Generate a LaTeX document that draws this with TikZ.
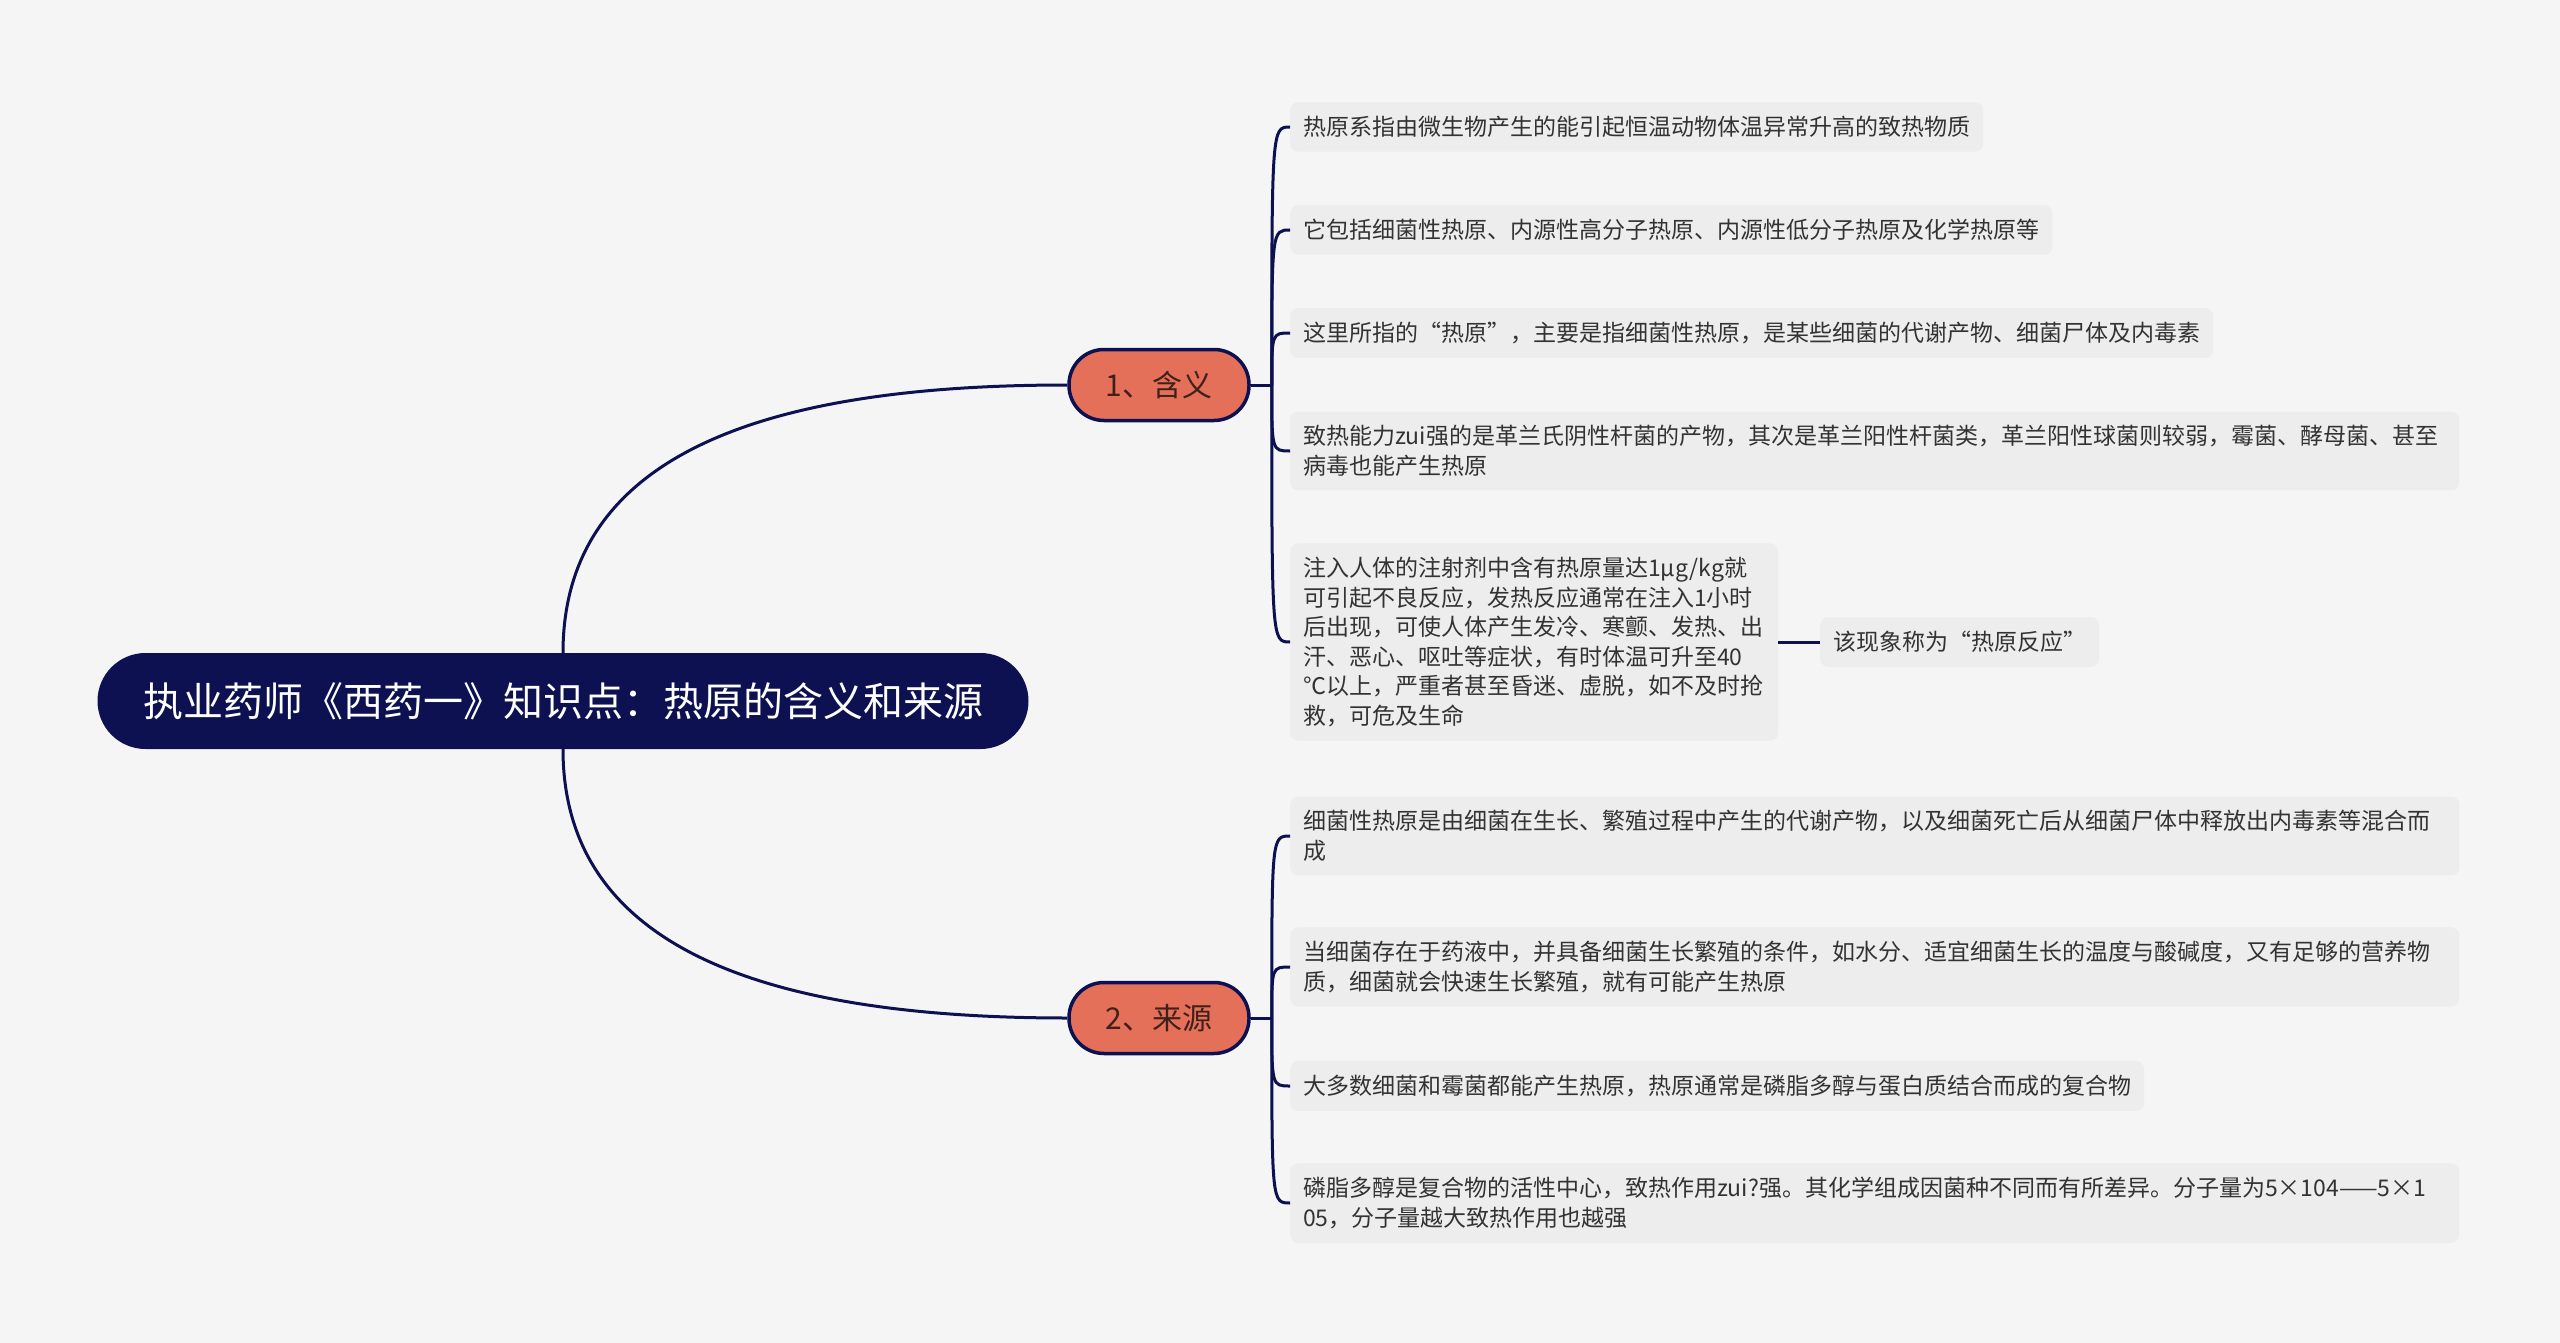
\documentclass[tikz,border=0pt]{standalone}
\usepackage{fontspec}
\setmainfont{Noto Sans CJK SC}
\usetikzlibrary{calc}
\definecolor{navy}{HTML}{0D1152}
\definecolor{salmon}{HTML}{E5705A}
\definecolor{paper}{HTML}{F5F5F5}
\definecolor{leafbg}{HTML}{EDEDED}
\definecolor{ink}{HTML}{333333}
\definecolor{branchink}{HTML}{40201A}

\begin{document}
\begin{tikzpicture}[x=1pt, y=-1pt]

\fill[paper] (0,0) rectangle (2560,1343);
\useasboundingbox (0,0) rectangle (2560,1343);

\tikzset{rootnode/.style={fill=navy, text=white, rounded corners=48pt, minimum width=931pt, minimum height=96pt, font=\fontsize{40}{48}\selectfont}}
\tikzset{branch/.style={fill=salmon, draw=navy, line width=3.5pt, rounded corners=35pt, minimum width=180pt, minimum height=71pt, text=branchink, font=\fontsize{30}{36}\selectfont}}
\tikzset{leaf/.style={fill=leafbg, rounded corners=8pt, anchor=west, align=left, inner xsep=13pt, inner ysep=14pt, text=ink, font=\fontsize{23}{29.5}\selectfont}}
\tikzset{wideleaf/.style={leaf, text width=1143pt}}
\tikzset{link/.style={draw=navy, line width=3pt}}

\node[rootnode] (root) at (563, 701) {执业药师《西药一》知识点：热原的含义和来源};
\node[branch] (mean) at (1159, 385) {1、含义};
\node[branch] (src) at (1159, 1018) {2、来源};

% 含义
\node[leaf] (m1) at (1290, 127) {热原系指由微生物产生的能引起恒温动物体温异常升高的致热物质};
\node[leaf] (m2) at (1290, 230) {它包括细菌性热原、内源性高分子热原、内源性低分子热原及化学热原等};
\node[leaf] (m3) at (1290, 333) {这里所指的“热原”，主要是指细菌性热原，是某些细菌的代谢产物、细菌尸体及内毒素};
\node[wideleaf] (m4) at (1290, 451) {致热能力zui强的是革兰氏阴性杆菌的产物，其次是革兰阳性杆菌类，革兰阳性球菌则较弱，霉菌、酵母菌、甚至\\病毒也能产生热原};
\node[leaf, text width=462pt] (m5) at (1290, 642) {注入人体的注射剂中含有热原量达1μg/kg就\\可引起不良反应，发热反应通常在注入1小时\\后出现，可使人体产生发冷、寒颤、发热、出\\汗、恶心、呕吐等症状，有时体温可升至40\\℃以上，严重者甚至昏迷、虚脱，如不及时抢\\救，可危及生命};
\node[leaf] (m5a) at (1820, 642) {该现象称为“热原反应”};

% 来源
\node[wideleaf] (s1) at (1290, 836) {细菌性热原是由细菌在生长、繁殖过程中产生的代谢产物，以及细菌死亡后从细菌尸体中释放出内毒素等混合而\\成};
\node[wideleaf] (s2) at (1290, 967) {当细菌存在于药液中，并具备细菌生长繁殖的条件，如水分、适宜细菌生长的温度与酸碱度，又有足够的营养物\\质，细菌就会快速生长繁殖，就有可能产生热原};
\node[leaf] (s3) at (1290, 1086) {大多数细菌和霉菌都能产生热原，热原通常是磷脂多醇与蛋白质结合而成的复合物};
\node[wideleaf] (s4) at (1290, 1203) {磷脂多醇是复合物的活性中心，致热作用zui?强。其化学组成因菌种不同而有所差异。分子量为5×104——5×1\\05，分子量越大致热作用也越强};

\coordinate (spm) at ($(mean.east)+(21,0)$);
\coordinate (sps) at ($(src.east)+(21,0)$);

\draw[link] (root.north) .. controls ($(root.north)+(0,-200)$) and ($(mean.west)+(-300,0)$) .. (mean.west);
\draw[link] (root.south) .. controls ($(root.south)+(0,200)$) and ($(src.west)+(-300,0)$) .. (src.west);

\path (mean) edge [link] (spm);
\path (src) edge [link] (sps);
\foreach \c in {m1,m2,m3,m4,m5}
  \draw[link] (spm) .. controls (spm |- \c) and (spm |- \c) .. (\c.west);
\foreach \c in {s1,s2,s3,s4}
  \draw[link] (sps) .. controls (sps |- \c) and (sps |- \c) .. (\c.west);
\path (m5) edge [link] (m5a);
\end{tikzpicture}
\end{document}
